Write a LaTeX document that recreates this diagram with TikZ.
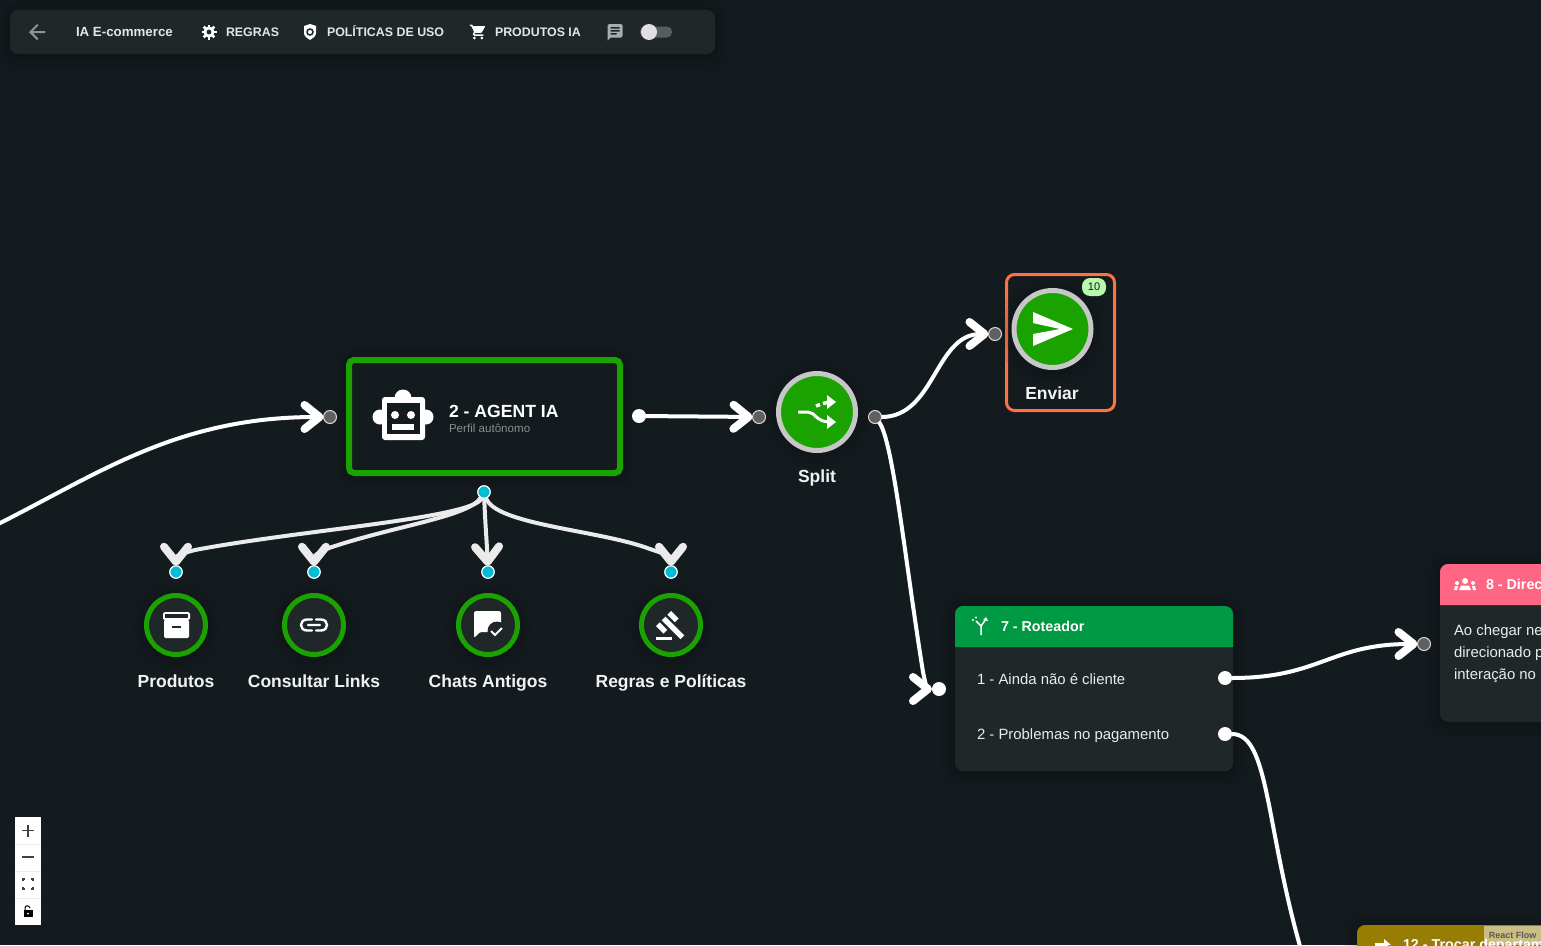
\documentclass[tikz,border=0pt]{standalone}
\usepackage{fontspec}
\setmainfont{Liberation Sans}
\usetikzlibrary{arrows.meta,shadows.blur}
\definecolor{bgdark}{HTML}{141B1F}
\definecolor{carddark}{HTML}{202729}
\definecolor{nodegreen}{HTML}{1AA300}
\definecolor{routergreen}{HTML}{009944}
\definecolor{directpink}{HTML}{FF6684}
\definecolor{swapolive}{HTML}{987D05}
\definecolor{selorange}{HTML}{FF7043}
\definecolor{handlegray}{HTML}{606060}
\definecolor{handlecyan}{HTML}{00BCD4}
\definecolor{badgegreen}{HTML}{B9F9AE}
\newcommand{\fsize}[1]{\fontsize{#1}{#1}\selectfont}
\begin{document}
\begin{tikzpicture}[x=1pt, y=-1pt,
  every node/.style={align=center, inner sep=0pt, outer sep=0pt, text=white},
  softshadow/.style={blur shadow={shadow xshift=0pt, shadow yshift=-2pt, shadow blur radius=16pt, shadow opacity=45, shadow blur steps=12}},
  grayhandle/.style={circle, draw=white!85!black, line width=1pt, fill=handlegray, minimum size=13pt},
  whitehandle/.style={circle, fill=white, minimum size=14pt},
  cyanhandle/.style={circle, draw=white, line width=1.2pt, fill=handlecyan, minimum size=12.5pt},
  bignode/.style={circle, draw=white!78!black, line width=5pt, fill=nodegreen, minimum size=77pt, softshadow},
  toolnode/.style={circle, draw=nodegreen, line width=5pt, fill=carddark, minimum size=59pt, softshadow},
  cardbox/.style={rectangle, rounded corners=8pt, fill=carddark, softshadow},
  biglabel/.style={anchor=base, font=\fsize{17.5}\bfseries, text=white!95!black},
  barlabel/.style={anchor=base west, font=\fsize{12.4}\bfseries, text=white!90!black},
  rowlabel/.style={anchor=base west, font=\fsize{14.9}, text=white!92!black},
  headlabel/.style={anchor=base west, font=\fsize{14.3}\bfseries},
  edge/.style={draw=white, line width=4pt, -{Straight Barb[length=15pt,width=24pt,line width=8pt,round]}},
  tooledge/.style={edge, draw=white!92!black}]
\useasboundingbox (0,0) rectangle (1541,945);
\clip (0,0) rectangle (1541,945);
\fill[bgdark] (0,0) rectangle (1541,945);

\node (toolbar) [cardbox, minimum width=705pt, minimum height=44pt] at (362.5,32) {};
\node (titlelabel) [barlabel, font=\fsize{13.3}\bfseries] at (76,36) {IA E-commerce};
\node (regraslabel) [barlabel] at (226,36) {REGRAS};
\node (politicaslabel) [barlabel] at (327,36) {POLÍTICAS DE USO};
\node (produtoslabel) [barlabel] at (495,36) {PRODUTOS IA};
\node (toggletrack) [rectangle, rounded corners=5pt, fill=white!25!carddark, minimum width=32pt, minimum height=11pt] at (656,32) {};
\node (toggleknob) [circle, fill=white!88!black, minimum size=16pt] at (649,32) {};
\begin{scope}[shift={(25,20)}]
\fill[white!50!carddark] (20,11) -- (7.83,11) -- (13.42,5.41) -- (12,4) -- (4,12) -- (12,20) -- (13.41,18.59) -- (7.83,13) -- (20,13) -- cycle;
\end{scope}
\foreach \a in {0,45,...,315} \draw[white, line width=2.6pt] (209,32) -- +(\a:7.5);
\fill[white] (209,32) circle (5.6);
\fill[carddark] (209,32) circle (2.4);
\fill[white] (304,26) -- (310,24) -- (316,26) -- (316,33) .. controls (316,36) and (313,38.5) .. (310,40) .. controls (307,38.5) and (304,36) .. (304,33) -- cycle;
\draw[carddark, line width=1.5pt] (310,32) circle (3);
\begin{scope}[shift={(469,23)}, scale=.75]
\fill[white] (1,2) -- (4.3,2) -- (5.2,4) -- (21,4) -- (21,5.5) -- (17.3,12.2) -- (15.5,13.2) -- (8,13.2) -- (7.1,15) -- (19,15) -- (19,17) -- (7,17) -- (5,15.5) -- (6.6,11.6) -- (3,4) -- (1,4) -- cycle;
\fill[white] (7,20) circle (2) (17,20) circle (2);
\end{scope}
\begin{scope}[shift={(606,22.5)}, scale=.75]
\fill[white!62!carddark] (4,2) -- (20,2) -- (22,4) -- (22,18) -- (20,20) -- (6,20) -- (2,24) -- (2,4) -- cycle;
\fill[carddark] (6,6) rectangle (18,8) (6,10) rectangle (18,12) (6,14) rectangle (14,16);
\end{scope}

\node (agent) [rectangle, draw=nodegreen, line width=6pt, rounded corners=5pt, fill=bgdark, minimum width=271pt, minimum height=113pt, softshadow] at (484.5,416.5) {};
\node (agentlabel) [anchor=base west, font=\fsize{17.6}\bfseries] at (449,417) {2 - AGENT IA};
\node (agentsub) [anchor=base west, font=\fsize{11.6}, text=white!55!black] at (449,432) {Perfil autônomo};
\fill[white] (380,417) circle (7.5) (426,417) circle (7.5) (403,398) circle (8.5);
\fill[white, rounded corners=3pt] (382,397) rectangle (425,440);
\fill[bgdark] (387,403) rectangle (420,434);
\fill[white] (395,415) circle (4) (411,415) circle (4);
\fill[white] (392,424) rectangle (414,430);
\node (agentin) [grayhandle] at (330,417) {};
\node (agentout) [whitehandle] at (639,416) {};
\node (agenttools) [cyanhandle] at (484,492) {};

\node (split) [bignode] at (817,412) {};
\node (splitlabel) [biglabel] at (817,482) {Split};
\node (splitin) [grayhandle] at (759,417) {};
\node (splitout) [grayhandle] at (875,417) {};
\draw[white, line width=3pt] (798,412) -- (808,412) .. controls (815,412) and (816,422) .. (830,422);
\draw[white, line width=3.5pt] (816,406) -- (820,404.5) (823,403.5) -- (829,402);
\fill[white] (827,395) -- (836,402) -- (827,409) -- cycle (827,415) -- (836,422) -- (827,429) -- cycle;

\node (enviarbox) [rectangle, draw=selorange, line width=3pt, rounded corners=8pt, minimum width=108pt, minimum height=136pt] at (1060.5,342.5) {};
\node (enviar) [bignode] at (1052.5,329) {};
\node (enviarlabel) [biglabel] at (1052,399) {Enviar};
\node (enviarbadge) [rectangle, rounded corners=8pt, fill=badgegreen, minimum width=24pt, minimum height=18pt, font=\fsize{11}, text=bgdark] at (1094,287) {10};
\node (enviarin) [grayhandle] at (995,334) {};
\fill[white] (1033,312) -- (1073,329) -- (1033,346) -- (1033,334) -- (1060,329) -- (1033,323) -- cycle;

\node (produtos) [toolnode] at (176,625) {};
\node (produtoslbl) [biglabel] at (176,687) {Produtos};
\node (produtosin) [cyanhandle] at (176,572) {};
\fill[white, rounded corners=1.5pt] (163,612) rectangle (190,620);
\fill[carddark] (165,614) rectangle (188,618);
\fill[white, rounded corners=1.5pt] (164,619.5) rectangle (189,638);
\fill[carddark] (172,625.5) rectangle (181,628);
\node (links) [toolnode] at (314,625) {};
\node (linkslbl) [biglabel] at (314,687) {Consultar Links};
\node (linksin) [cyanhandle] at (314,572) {};
\draw[white, line width=2.4pt, line cap=round] (312,619.5) -- (307,619.5) .. controls (299,619.5) and (299,630.5) .. (307,630.5) -- (312,630.5) (316,619.5) -- (321,619.5) .. controls (329,619.5) and (329,630.5) .. (321,630.5) -- (316,630.5) (308,625) -- (320,625);
\node (chats) [toolnode] at (488,625) {};
\node (chatslbl) [biglabel] at (488,687) {Chats Antigos};
\node (chatsin) [cyanhandle] at (488,572) {};
\fill[white, rounded corners=1.5pt] (474,611) -- (501,611) -- (501,632) -- (480,632) -- (474,638) -- cycle;
\fill[carddark] (497,631) circle (9.5);
\draw[white, line width=1.8pt] (491,631) -- (495,635) -- (502,628);
\node (regras) [toolnode] at (671,625) {};
\node (regraslbl) [biglabel] at (671,687) {Regras e Políticas};
\node (regrasin) [cyanhandle] at (671,572) {};
\begin{scope}[shift={(654.7,609.5)}, scale=1.33]
\fill[white] (5.25,8.2) -- (8.08,5.37) -- (22.22,19.51) -- (19.39,22.34) -- cycle;
\fill[white] (12.32,1.13) -- (17.98,6.79) -- (15.15,9.62) -- (9.49,3.96) -- cycle;
\fill[white] (3.8,9.6) -- (9.46,15.26) -- (6.63,18.09) -- (.97,12.43) -- cycle;
\fill[white] (1,21) rectangle (13,23);
\end{scope}

\node (router) [cardbox, minimum width=278pt, minimum height=165pt] at (1094,688.5) {};
\fill[routergreen] (router.west |- 0,647) [rounded corners=8pt] -- (router.north west) -- (router.north east) [sharp corners] -- (router.east |- 0,647) -- cycle;
\node (routerlabel) [headlabel] at (1001,631) {7 - Roteador};
\draw[white, line width=1.5pt] (981,635) -- (981,626) -- (976,621) (981,626) -- (986,619);
\fill[white] (973,620) circle (1.2) (976,617.5) circle (1.2) (986,617) -- (983,620) -- (988,621) -- cycle;
\node (routerone) [rowlabel] at (977,684) {1 - Ainda não é cliente};
\node (routertwo) [rowlabel] at (977,739) {2 - Problemas no pagamento};
\node (routerin) [whitehandle] at (939,689) {};
\node (routerouta) [whitehandle] at (1225,678) {};
\node (routeroutb) [whitehandle] at (1225,734) {};

\node (direct) [cardbox, minimum width=300pt, minimum height=158pt, anchor=north west] at (1440,564) {};
\fill[directpink] (1440,605) [rounded corners=8pt] -- (1440,564) -- (1760,564) [sharp corners] -- (1760,605) -- cycle;
\node (directlabel) [headlabel] at (1486,589) {8 - Direc};
\fill[white] (1465,581) circle (3) (1457,583) circle (2) (1473,583) circle (2);
\fill[white] (1459,590) -- (1461,585.5) -- (1469,585.5) -- (1471,590) -- cycle (1454,590) -- (1455,586) -- (1458,586) -- (1457,590) -- cycle (1473,590) -- (1472,586) -- (1475,586) -- (1476,590) -- cycle;
\node (directa) [rowlabel] at (1454,635) {Ao chegar ne};
\node (directb) [rowlabel] at (1454,657) {direcionado p};
\node (directc) [rowlabel] at (1454,679) {interação no};
\node (directin) [grayhandle] at (1424,644) {};

\node (swap) [cardbox, fill=swapolive, minimum width=300pt, minimum height=60pt, anchor=north west] at (1357,925) {};
\node (swaplabel) [headlabel] at (1403,949) {12 - Trocar departam};
\draw[white, line width=2.4pt] (1375,944.5) -- (1388,944.5);
\fill[white] (1384,939) -- (1391,945) -- (1384,945) -- cycle;
\node (reactflow) [rectangle, fill=white, fill opacity=.5, text opacity=1, text=black!65, font=\fsize{9}\bfseries, minimum width=57pt, minimum height=19pt, anchor=north west] at (1484,926) {React Flow};

\node (controls) [rectangle, fill=white, minimum width=26pt, minimum height=108pt, anchor=north west] at (15,817) {};
\draw[black!8] (15,844) -- (41,844) (15,871) -- (41,871) (15,898) -- (41,898);
\draw[black!75, line width=1.6pt] (22,830.5) -- (34,830.5) (28,824.5) -- (28,836.5) (22,857) -- (34,857);
\draw[black!75, line width=1.2pt] (23,881) -- (23,879) -- (25,879) (31,879) -- (33,879) -- (33,881) (33,887) -- (33,889) -- (31,889) (25,889) -- (23,889) -- (23,887);
\fill[black] (23.5,910) rectangle (32.5,917);
\draw[black, line width=1pt] (25,910) -- (25,908) .. controls (25,905) and (29,905) .. (30,908);
\fill[white] (28,913.5) circle (1);

\coordinate (edgestart) at (-20,533);
\coordinate (edgeend) at (1304,960);
\draw[edge] (edgestart) .. controls (90,480) and (170,417) .. (agentin);
\draw[edge] (agentout) -- (splitin);
\draw[edge] (splitout) .. controls (893,440) and (905,560) .. (923,672) .. controls (925,683) and (928,689) .. (routerin);
\draw[edge] (splitout) .. controls (935,417) and (935,334) .. (enviarin);
\draw[edge] (routerouta) .. controls (1320,678) and (1330,644) .. (directin);
\draw[edge, -] (routeroutb) .. controls (1270,734) and (1265,830) .. (edgeend);
\draw[tooledge] (agenttools) .. controls (475,518) and (300,530) .. (195,550) .. controls (183,553) and (176,556) .. (produtosin);
\draw[tooledge] (agenttools) .. controls (470,516) and (400,525) .. (335,546) .. controls (322,550) and (314,555) .. (linksin);
\draw[tooledge] (agenttools) .. controls (485,520) and (487,545) .. (chatsin);
\draw[tooledge] (agenttools) .. controls (495,525) and (600,530) .. (650,549) .. controls (662,553) and (671,556) .. (regrasin);
\end{tikzpicture}
\end{document}
